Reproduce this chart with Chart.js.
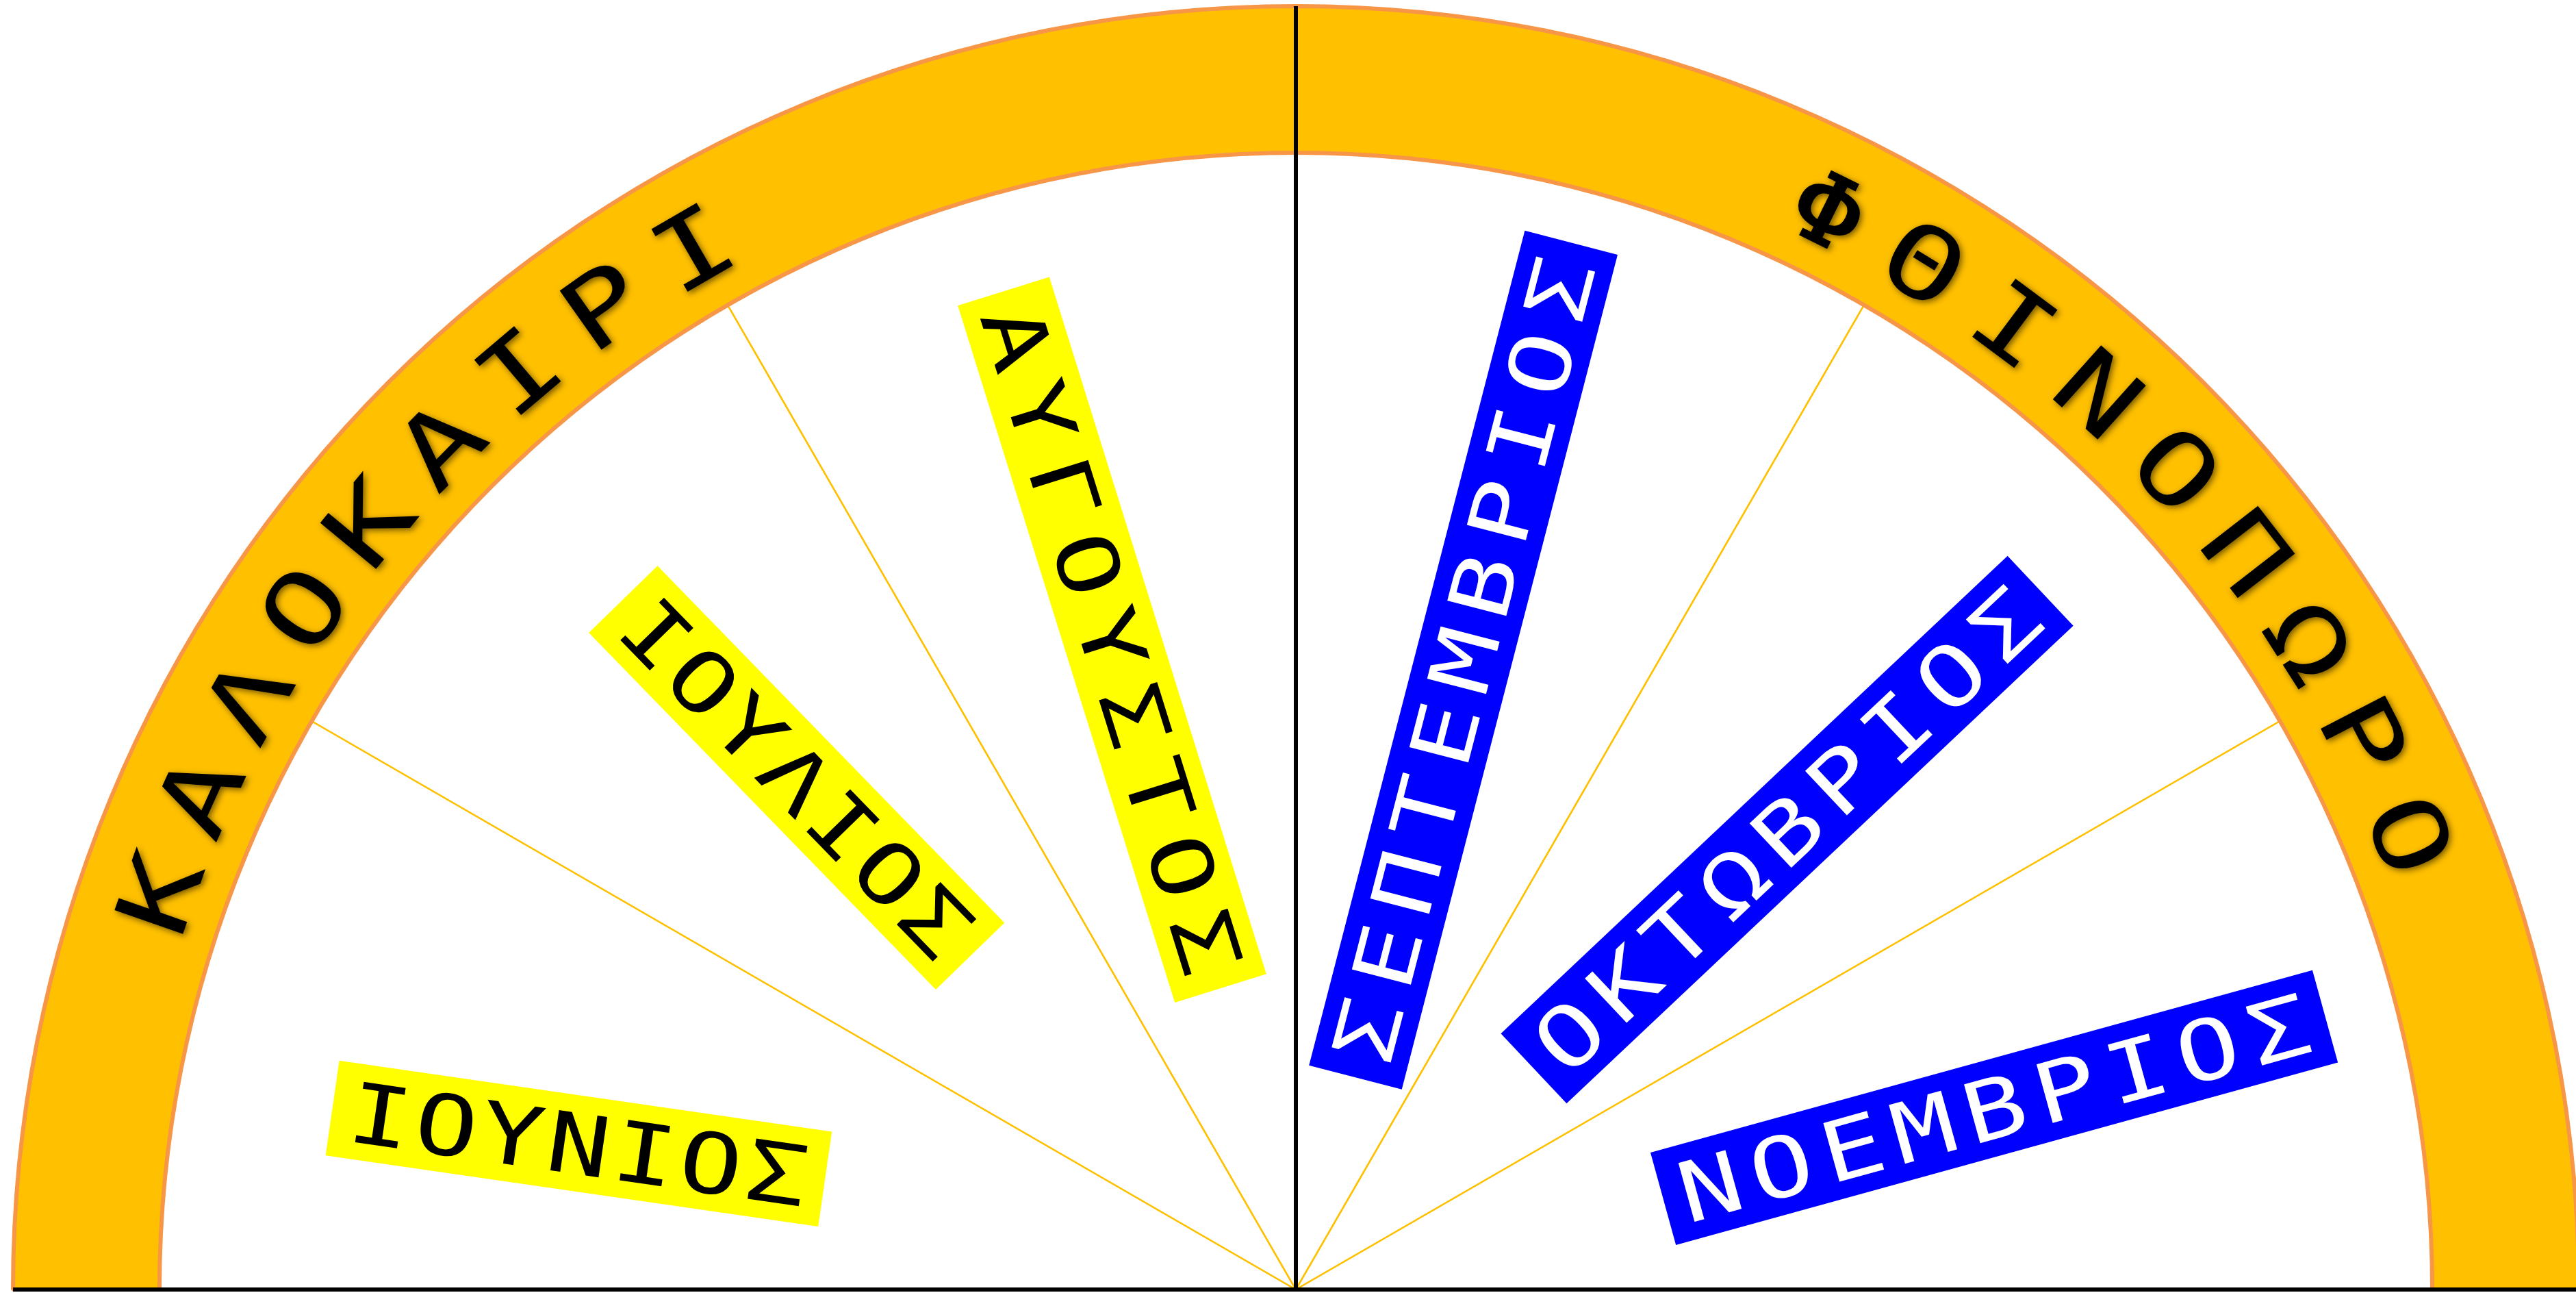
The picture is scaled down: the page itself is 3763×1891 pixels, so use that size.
<!DOCTYPE html>
<html><head><meta charset="utf-8">
<script src="https://cdn.jsdelivr.net/npm/chart.js@4/dist/chart.umd.min.js"></script>
<style>html,body{margin:0;padding:0;background:#fff;overflow:hidden}#wrap{width:3763px;height:1891px;position:relative}</style>
</head><body><div id="wrap"><canvas id="c"></canvas></div>
<script>
// ---- data ----
const seasons = ['ΚΑΛΟΚΑΙΡΙ', 'ΦΘΙΝΟΠΩΡΟ'];
const monthsPerSeason = [3, 3];
const months = ['ΙΟΥΝΙΟΣ', 'ΙΟΥΛΙΟΣ', 'ΑΥΓΟΥΣΤΟΣ', 'ΣΕΠΤΕΜΒΡΙΟΣ', 'ΟΚΤΩΒΡΙΟΣ', 'ΝΟΕΜΒΡΙΟΣ'];
const monthShare = [1, 1, 1, 1, 1, 1];
const monthSeason = [0, 0, 0, 1, 1, 1];

// ---- styles / layout ----
const ringFill = '#FFC000', ringEdge = '#F79646', spokeColor = '#FFC000';
const boxFill = ['#FFFF00', '#0000FF'], boxText = ['#000000', '#FFFFFF'];
const FONT = '"DejaVu Sans Mono", monospace';
const monthFontPx = 122, monthScaleX = 1.25, boxH = 140;
const seasonFontPx = 145, seasonScaleX = 1.3;
const monthPlacement = [
  {dAngle: -3.5, rFrac: 0.644, rot: 8.2,   len: 727},
  {dAngle: 0.7,  rFrac: 0.629, rot: 45.8,  len: 727},
  {dAngle: -0.8, rFrac: 0.594, rot: 72.7,  len: 1066},
  {dAngle: -0.1, rFrac: 0.573, rot: -75.5, len: 1259},
  {dAngle: 1.9,  rFrac: 0.592, rot: -43.3, len: 1017},
  {dAngle: 0.4,  rFrac: 0.635, rot: -15.4, len: 1003}
];
const seasonPlacement = [{dAngle: -5.45, step: 5.09}, {dAngle: 2.05, step: 5.19}];
const D2R = Math.PI / 180;

const overlay = {
  id: 'overlay',
  afterDatasetsDraw(chart) {
    const ctx = chart.ctx;
    const ring = chart.getDatasetMeta(0).data;
    const slices = chart.getDatasetMeta(1).data;
    const cx = ring[0].x, cy = ring[0].y, R = ring[0].outerRadius, Rin = ring[0].innerRadius;
    const rMonths = slices[0].outerRadius;
    ctx.save();
    // axis lines
    ctx.strokeStyle = '#000'; ctx.lineWidth = 6; ctx.lineCap = 'butt';
    ctx.beginPath(); ctx.moveTo(cx - R, cy); ctx.lineTo(chart.width, cy); ctx.stroke();
    ctx.beginPath(); ctx.moveTo(cx, cy - R); ctx.lineTo(cx, cy); ctx.stroke();

    // month labels
    slices.forEach((arc, i) => {
      const p = monthPlacement[i];
      const a = (arc.startAngle + arc.endAngle) / 2 + p.dAngle * D2R;
      const r = rMonths * p.rFrac;
      const x = cx + r * Math.cos(a), y = cy + r * Math.sin(a);
      ctx.save();
      ctx.translate(x, y); ctx.rotate(p.rot * D2R);
      ctx.fillStyle = boxFill[monthSeason[i]];
      ctx.fillRect(-p.len / 2, -boxH / 2, p.len, boxH);
      ctx.font = monthFontPx + 'px ' + FONT;
      ctx.textBaseline = 'alphabetic'; ctx.textAlign = 'left';
      ctx.fillStyle = boxText[monthSeason[i]];
      const chars = [...months[i]];
      const widths = chars.map(c => ctx.measureText(c).width * monthScaleX);
      const total = widths.reduce((s, w) => s + w, 0);
      const target = p.len - 50;
      const sp = (target - total) / (chars.length - 1);
      let tx = -target / 2;
      const base = monthFontPx * 0.73 / 2;
      chars.forEach((c, k) => {
        ctx.save(); ctx.translate(tx, base); ctx.scale(monthScaleX, 1);
        ctx.fillText(c, 0, 0); ctx.restore();
        tx += widths[k] + sp;
      });
      ctx.restore();
    });

    // season labels along the ring
    const rText = (R + Rin) / 2 - 8;
    ctx.font = seasonFontPx + 'px ' + FONT;
    ctx.textAlign = 'center'; ctx.textBaseline = 'alphabetic';
    ring.forEach((arc, s) => {
      const sp = seasonPlacement[s];
      const mid = (arc.startAngle + arc.endAngle) / 2 + sp.dAngle * D2R;
      const chars = [...seasons[s]];
      const n = chars.length;
      chars.forEach((c, k) => {
        const a = mid + (k - (n - 1) / 2) * sp.step * D2R;
        const x = cx + rText * Math.cos(a), y = cy + rText * Math.sin(a);
        ctx.save();
        ctx.translate(x, y); ctx.rotate(a + Math.PI / 2); ctx.scale(seasonScaleX, 1);
        ctx.shadowColor = 'rgba(0,0,0,0.55)'; ctx.shadowBlur = 10; ctx.shadowOffsetX = 3; ctx.shadowOffsetY = 3;
        ctx.fillStyle = '#000';
        ctx.fillText(c, 0, seasonFontPx * 0.73 / 2);
        ctx.restore();
      });
    });
    ctx.restore();
  }
};

new Chart(document.getElementById('c'), {
  type: 'doughnut',
  data: {
    labels: months,
    datasets: [
      {label: 'Εποχή', data: monthsPerSeason, backgroundColor: ringFill, borderColor: ringEdge, borderWidth: 6, weight: 214},
      {label: 'Μήνες', data: monthShare, backgroundColor: '#FFFFFF', borderColor: spokeColor, borderWidth: 2.5, weight: 1660}
    ]
  },
  options: {
    responsive: true, maintainAspectRatio: false, animation: false,
    rotation: -90, circumference: 180, cutout: 0, radius: 1874,
    layout: {padding: {left: 23, top: 1, right: 0, bottom: 0}},
    plugins: {legend: {display: false}, tooltip: {enabled: false}},
    events: []
  },
  plugins: [overlay]
});
</script>
</body></html>
